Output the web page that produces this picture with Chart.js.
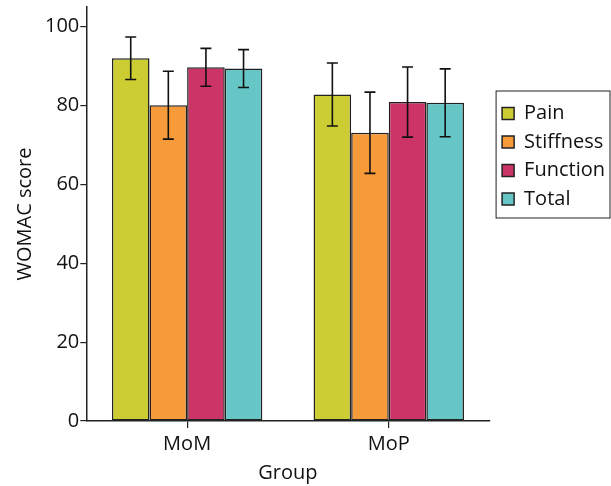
<!DOCTYPE html>
<html>
<head>
<meta charset="utf-8">
<script src="https://cdn.jsdelivr.net/npm/chart.js@4.4.1/dist/chart.umd.min.js"></script>
<style>
  html, body { margin: 0; padding: 0; background: #fff; }
  #wrap { width: 611px; height: 486px; }
</style>
</head>
<body>
<div id="wrap"><canvas id="womacchart"></canvas></div>
<script>
// groups on the x axis
var groups = ['MoM', 'MoP'];

// mean WOMAC score per group, and standard deviation (error bars)
var painMean = [92.0, 82.8];
var painSd = [5.4, 8.0];
var stiffnessMean = [80.1, 73.1];
var stiffnessSd = [8.6, 10.3];
var functionMean = [89.7, 80.9];
var functionSd = [4.8, 8.9];
var totalMean = [89.4, 80.7];
var totalSd = [4.8, 8.6];

var yTicks = [0, 20, 40, 60, 80, 100];

Chart.defaults.font.family = "'Open Sans', 'DejaVu Sans', sans-serif";
Chart.defaults.color = '#111';

//---error bars---//
var errorBars = {
  id: 'errorBars',
  afterDatasetsDraw: function(chart) {
    var ctx = chart.ctx;
    var yScale = chart.scales.y;
    ctx.save();
    ctx.strokeStyle = '#111';
    ctx.lineWidth = 1.6;
    chart.data.datasets.forEach(function(ds, i) {
      var meta = chart.getDatasetMeta(i);
      meta.data.forEach(function(bar, j) {
        var top = yScale.getPixelForValue(ds.data[j] + ds.sd[j]);
        var bottom = yScale.getPixelForValue(ds.data[j] - ds.sd[j]);
        ctx.beginPath();
        ctx.moveTo(bar.x, top);
        ctx.lineTo(bar.x, bottom);
        ctx.moveTo(bar.x - 5.5, top);
        ctx.lineTo(bar.x + 5.5, top);
        ctx.moveTo(bar.x - 5.5, bottom);
        ctx.lineTo(bar.x + 5.5, bottom);
        ctx.stroke();
      });
    });
    ctx.restore();
  }
};

//---legend: nudge right and frame it---//
var legendFrame = {
  id: 'legendFrame',
  afterLayout: function(chart) {
    chart.legend.left += 4;
    chart.legend.right += 4;
  },
  afterDraw: function(chart) {
    var legend = chart.legend;
    var boxes = legend.legendHitBoxes;
    if (!boxes || !boxes.length) return;
    var first = boxes[0];
    var last = boxes[boxes.length - 1];
    var x0 = legend.left + 2.5;
    var y0 = first.top - 12.5;
    var y1 = last.top + last.height + 9;
    var ctx = chart.ctx;
    ctx.save();
    ctx.strokeStyle = '#222';
    ctx.lineWidth = 1;
    ctx.strokeRect(x0, y0, 610 - x0, y1 - y0);
    ctx.restore();
  }
};

var data = {
  labels: groups,
  datasets: [
    { label: 'Pain', data: painMean, sd: painSd, backgroundColor: 'rgb(204, 204, 51)' },
    { label: 'Stiffness', data: stiffnessMean, sd: stiffnessSd, backgroundColor: 'rgb(247, 154, 57)' },
    { label: 'Function', data: functionMean, sd: functionSd, backgroundColor: 'rgb(204, 51, 102)' },
    { label: 'Total', data: totalMean, sd: totalSd, backgroundColor: 'rgb(102, 198, 198)' }
  ]
};
data.datasets.forEach(function(ds) {
  ds.borderColor = '#222';
  ds.borderWidth = 1.5;
  ds.borderSkipped = false;
  ds.barPercentage = 1.0;
  ds.categoryPercentage = 0.746;
});

var config = {
  type: 'bar',
  data: data,
  options: {
    responsive: true,
    maintainAspectRatio: false,
    animation: false,
    layout: { padding: { top: 7, right: 0, bottom: 2, left: 0 } },
    scales: {
      x: {
        grid: { display: true, drawOnChartArea: false, offset: false, tickLength: 7, color: '#222', lineWidth: 1.2 },
        border: { display: true, color: '#222', width: 1.5 },
        ticks: { font: { size: 20 }, padding: 4 },
        title: { display: true, text: 'Group', font: { size: 20, lineHeight: 1.05 }, padding: { top: 3, bottom: 0 } }
      },
      y: {
        min: 0,
        max: 105,
        afterBuildTicks: function(axis) {
          axis.ticks = yTicks.map(function(v) { return { value: v }; });
        },
        afterFit: function(axis) {
          axis.paddingTop = 0;
          axis.paddingBottom = 0;
        },
        grid: { display: true, drawOnChartArea: false, tickLength: 6, color: '#222', lineWidth: 1.2 },
        border: { display: true, color: '#222', width: 1.5 },
        ticks: { font: { size: 20 }, padding: 1 },
        title: { display: true, text: 'WOMAC score', font: { size: 20 }, padding: { top: 13, bottom: 7 } }
      }
    },
    plugins: {
      legend: {
        display: true,
        position: 'right',
        align: 'start',
        title: { display: true, text: '', font: { size: 12, lineHeight: 1 }, padding: { top: 76, bottom: 0 } },
        labels: {
          boxWidth: 12,
          boxHeight: 12,
          padding: 8.5,
          color: '#111',
          font: { size: 20 }
        }
      },
      tooltip: { enabled: false }
    }
  },
  plugins: [errorBars, legendFrame]
};

var womacctx = document.getElementById('womacchart').getContext('2d');
var womacchart = new Chart(womacctx, config);
</script>
</body>
</html>
